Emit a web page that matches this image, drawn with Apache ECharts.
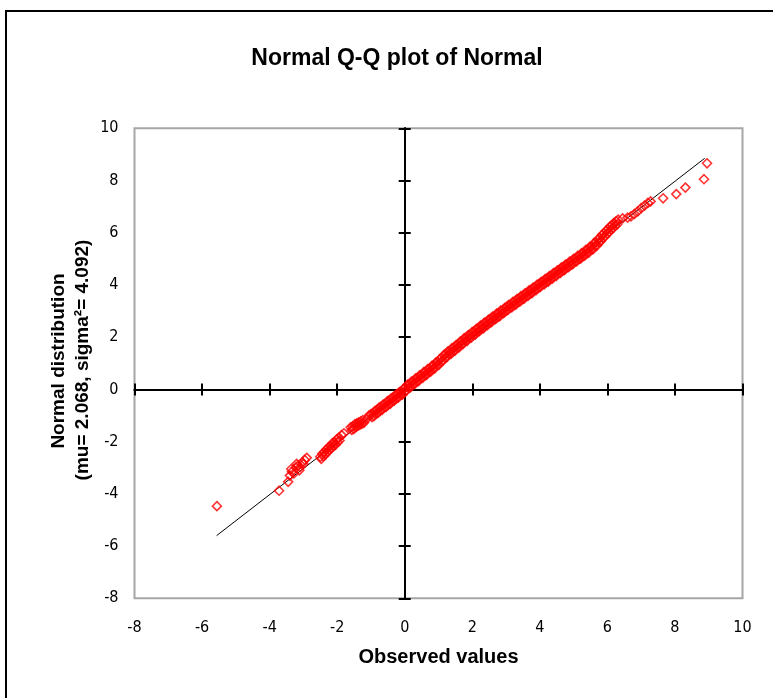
<!DOCTYPE html>
<html>
<head>
<meta charset="utf-8">
<script src="https://cdn.jsdelivr.net/npm/echarts@6/dist/echarts.min.js"></script>
<style>
html, body { margin: 0; padding: 0; background: #fff; }
#chart { width: 773px; height: 698px; }
</style>
</head>
<body>
<div id="chart"></div>
<script>
// 观测值 (x) 与正态分位数 (y)，上沿一排
var obsValues = [
	-5.56, -3.72, -3.45, -3.40, -3.34, -3.28, -3.22, -3.16, -3.10, -3.04, -2.96, -2.90,
	-2.50, -2.44, -2.38, -2.32, -2.26, -2.20, -2.14, -2.08, -2.02, -1.96, -1.87, -1.80,
	-1.60, -1.54, -1.48, -1.42, -1.36, -1.30, -1.24, -1.13, -1.06,
	-1.00, -0.94, -0.88, -0.82, -0.76, -0.70, -0.64, -0.58, -0.52, -0.46, -0.40, -0.34, -0.28, -0.22, -0.16, -0.10, -0.04,
	0.02, 0.08, 0.14, 0.20, 0.26, 0.32, 0.38, 0.44, 0.50, 0.56, 0.62, 0.68, 0.74, 0.80, 0.86, 0.92, 0.98,
	1.04, 1.10, 1.16, 1.22, 1.28, 1.34, 1.40, 1.46, 1.52, 1.58, 1.64, 1.70, 1.76, 1.82, 1.88, 1.94,
	2.00, 2.06, 2.12, 2.18, 2.24, 2.30, 2.36, 2.42, 2.48, 2.54, 2.60, 2.66, 2.72, 2.78, 2.84, 2.90, 2.96,
	3.02, 3.08, 3.14, 3.20, 3.26, 3.32, 3.38, 3.44, 3.50, 3.56, 3.62, 3.68, 3.74, 3.80, 3.86, 3.92, 3.98,
	4.04, 4.10, 4.16, 4.22, 4.28, 4.34, 4.40, 4.46, 4.52, 4.58, 4.64, 4.70, 4.76, 4.82, 4.88, 4.94,
	5.00, 5.06, 5.12, 5.18, 5.24, 5.30, 5.36, 5.42, 5.48, 5.54, 5.60, 5.66, 5.72, 5.78, 5.84, 5.90, 5.96,
	6.02, 6.08, 6.14, 6.20, 6.26, 6.32,
	6.45, 6.60, 6.70, 6.80, 6.90, 7.00, 7.10, 7.20, 7.28, 7.65, 8.04, 8.31, 8.86, 8.95
];
var normQuantiles = [
	-4.47, -3.88, -3.54, -3.30, -3.15, -3.22, -3.00, -2.92, -2.98, -2.80, -2.70, -2.62,
	-2.58, -2.46, -2.40, -2.30, -2.22, -2.16, -2.06, -2.02, -1.92, -1.86, -1.75, -1.68,
	-1.45, -1.42, -1.34, -1.30, -1.26, -1.22, -1.18, -1.14, -1.00,
	-0.95, -0.92, -0.82, -0.78, -0.70, -0.66, -0.58, -0.55, -0.46, -0.43, -0.34, -0.31, -0.22, -0.19, -0.10, -0.08, 0.02,
	0.07, 0.18, 0.20, 0.30, 0.32, 0.42, 0.44, 0.54, 0.56, 0.66, 0.68, 0.78, 0.80, 0.90, 0.93, 1.03, 1.06,
	1.16, 1.22, 1.32, 1.36, 1.46, 1.48, 1.58, 1.61, 1.70, 1.73, 1.83, 1.86, 1.96, 1.98, 2.08, 2.10,
	2.20, 2.22, 2.32, 2.35, 2.44, 2.46, 2.56, 2.58, 2.67, 2.70, 2.79, 2.81, 2.90, 2.92, 3.02, 3.04, 3.12,
	3.16, 3.24, 3.26, 3.35, 3.37, 3.46, 3.48, 3.57, 3.59, 3.68, 3.70, 3.79, 3.81, 3.90, 3.92, 4.01, 4.04,
	4.12, 4.14, 4.23, 4.25, 4.34, 4.36, 4.45, 4.47, 4.56, 4.58, 4.67, 4.69, 4.78, 4.80, 4.89, 4.91,
	5.00, 5.02, 5.11, 5.13, 5.22, 5.24, 5.34, 5.36, 5.46, 5.48, 5.60, 5.63, 5.75, 5.80, 5.92, 5.98, 6.08,
	6.14, 6.24, 6.30, 6.38, 6.44, 6.50,
	6.55, 6.58, 6.63, 6.72, 6.82, 6.94, 7.04, 7.14, 7.20, 7.32, 7.48, 7.73, 8.05, 8.66
];
// 下沿一排
var obsValuesB = [
	-0.97, -0.91, -0.85, -0.79, -0.73, -0.67, -0.61, -0.55, -0.49, -0.43, -0.37, -0.31, -0.25, -0.19, -0.13, -0.07, -0.01,
	0.05, 0.11, 0.17, 0.23, 0.29, 0.35, 0.41, 0.47, 0.53, 0.59, 0.65, 0.71, 0.77, 0.83, 0.89, 0.95,
	1.01, 1.07, 1.13, 1.19, 1.25, 1.31, 1.37, 1.43, 1.49, 1.55, 1.61, 1.67, 1.73, 1.79, 1.85, 1.91, 1.97,
	2.03, 2.09, 2.15, 2.21, 2.27, 2.33, 2.39, 2.45, 2.51, 2.57, 2.63, 2.69, 2.75, 2.81, 2.87, 2.93, 2.99,
	3.05, 3.11, 3.17, 3.23, 3.29, 3.35, 3.41, 3.47, 3.53, 3.59, 3.65, 3.71, 3.77, 3.83, 3.89, 3.95, 4.01,
	4.07, 4.13, 4.19, 4.25, 4.31, 4.37, 4.43, 4.49, 4.55, 4.61, 4.67, 4.73, 4.79, 4.85, 4.91, 4.97,
	5.03, 5.09, 5.15, 5.21, 5.27, 5.33, 5.39, 5.45, 5.51, 5.57, 5.63, 5.69, 5.75, 5.81, 5.87, 5.93, 5.99, 6.05, 6.11, 6.17, 6.23, 6.29,
	-2.47, -2.41, -2.35, -2.29, -2.23, -2.17, -2.11, -2.05, -1.99, -1.93,
	-1.57, -1.51, -1.45, -1.39, -1.33, -1.27, -1.21,
	-3.36, -3.20, -3.00, -3.12
];
var normQuantilesB = [
	-1.06, -1.02, -0.94, -0.90, -0.82, -0.78, -0.70, -0.67, -0.58, -0.55, -0.46, -0.43, -0.34, -0.31, -0.22, -0.20, -0.10,
	-0.05, 0.06, 0.08, 0.18, 0.20, 0.30, 0.32, 0.42, 0.44, 0.54, 0.56, 0.66, 0.68, 0.78, 0.81, 0.91,
	0.94, 1.04, 1.10, 1.20, 1.24, 1.34, 1.36, 1.46, 1.49, 1.58, 1.61, 1.71, 1.74, 1.84, 1.86, 1.96, 1.98,
	2.08, 2.10, 2.20, 2.23, 2.32, 2.34, 2.44, 2.46, 2.55, 2.58, 2.67, 2.69, 2.78, 2.80, 2.90, 2.92, 3.00,
	3.04, 3.12, 3.14, 3.23, 3.25, 3.34, 3.36, 3.45, 3.47, 3.56, 3.58, 3.67, 3.69, 3.78, 3.80, 3.89, 3.92,
	4.00, 4.02, 4.11, 4.13, 4.22, 4.24, 4.33, 4.35, 4.44, 4.46, 4.55, 4.57, 4.66, 4.68, 4.77, 4.79,
	4.88, 4.90, 4.99, 5.01, 5.10, 5.12, 5.22, 5.24, 5.34, 5.36, 5.48, 5.51, 5.63, 5.68, 5.80, 5.86, 5.96, 6.02, 6.12, 6.18, 6.26, 6.32,
	-2.66, -2.56, -2.50, -2.40, -2.32, -2.26, -2.16, -2.12, -2.02, -1.96,
	-1.55, -1.52, -1.44, -1.40, -1.36, -1.32, -1.28,
	-3.05, -2.85, -2.85, -3.10
];
// 参考直线
var lineX = [-5.57, 8.88];
var lineY = [-5.60, 8.85];

var points = [];
for (var i = 0; i < obsValues.length; i++) {
	points.push([obsValues[i], normQuantiles[i]]);
}
for (var k = 0; k < obsValuesB.length; k++) {
	points.push([obsValuesB[k], normQuantilesB[k]]);
}
var linePoints = [];
for (var j = 0; j < lineX.length; j++) {
	linePoints.push([lineX[j], lineY[j]]);
}

var myChart = echarts.init(document.getElementById('chart'));

var narrow = '"Liberation Sans Narrow", "DejaVu Sans Condensed", sans-serif';
var gridPos = { left: 134.5, right: 30.5, top: 128.3, bottom: 99.7 };

// 零轴：两个网格各画一侧刻度，拼成十字刻度
function zeroAxis(gridIndex, pos) {
	return {
		type: 'value', gridIndex: gridIndex, min: -8, max: 10, interval: 2, position: pos,
		axisLine: { show: true, onZero: true, lineStyle: { color: '#000', width: 2 } },
		axisTick: { show: true, length: 6, lineStyle: { color: '#000', width: 2 } },
		axisLabel: { show: false },
		splitLine: { show: false }
	};
}

var option = {
	backgroundColor: '#fff',
	animation: false,
	title: {
		text: 'Normal Q-Q plot of Normal',
		left: 392,
		top: 42,
		textAlign: 'center',
		textStyle: { fontFamily: 'Liberation Sans', fontWeight: 'bold', fontSize: 23, color: '#000' }
	},
	grid: [
		{
			left: gridPos.left, right: gridPos.right, top: gridPos.top, bottom: gridPos.bottom,
			show: true, borderColor: '#a6a6a6', borderWidth: 2, backgroundColor: '#fff'
		},
		{
			left: gridPos.left, right: gridPos.right, top: gridPos.top, bottom: gridPos.bottom
		}
	],
	xAxis: [
		{
			type: 'value', gridIndex: 0, min: -8, max: 10, interval: 2, position: 'bottom',
			axisLine: { show: false, onZero: false },
			axisTick: { show: false },
			splitLine: { show: false },
			axisLabel: { margin: 22, color: '#000', fontFamily: narrow, fontSize: 16 },
			name: 'Observed values',
			nameLocation: 'middle',
			nameGap: 49,
			nameTextStyle: { fontFamily: 'Liberation Sans', fontWeight: 'bold', fontSize: 20, color: '#000' }
		},
		zeroAxis(0, 'top'),
		zeroAxis(1, 'bottom')
	],
	yAxis: [
		{
			type: 'value', gridIndex: 0, min: -8, max: 10, interval: 2, position: 'left',
			axisLine: { show: false, onZero: false },
			axisTick: { show: false },
			splitLine: { show: false },
			axisLabel: { margin: 16, color: '#000', fontFamily: narrow, fontSize: 16 }
		},
		zeroAxis(0, 'right'),
		zeroAxis(1, 'left')
	],
	graphic: [
		{
			type: 'rect', silent: true, z: -1,
			shape: { x: 6, y: 11, width: 900, height: 900 },
			style: { fill: 'none', stroke: '#000', lineWidth: 2 }
		},
		{
			type: 'text', x: 59, y: 361, rotation: Math.PI / 2,
			style: { text: 'Normal distribution', align: 'center', verticalAlign: 'middle',
				fontFamily: 'Liberation Sans', fontWeight: 'bold', fontSize: 19, fill: '#000' }
		},
		{
			type: 'text', x: 83, y: 360, rotation: Math.PI / 2,
			style: { text: '(mu= 2.068, sigma\u00b2= 4.092)', align: 'center', verticalAlign: 'middle',
				fontFamily: 'Liberation Sans', fontWeight: 'bold', fontSize: 19, fill: '#000' }
		}
	],
	series: [
		{
			name: 'line',
			type: 'line',
			xAxisIndex: 0,
			yAxisIndex: 0,
			data: linePoints,
			showSymbol: false,
			symbol: 'none',
			lineStyle: { color: '#000', width: 1 },
			z: 3
		},
		{
			name: 'Normal',
			type: 'scatter',
			xAxisIndex: 0,
			yAxisIndex: 0,
			data: points,
			symbol: 'diamond',
			symbolSize: 9,
			itemStyle: { color: 'rgba(255,255,255,0)', borderColor: '#ff0000', borderWidth: 1.6 },
			z: 4
		}
	]
};
myChart.setOption(option);
</script>
</body>
</html>
